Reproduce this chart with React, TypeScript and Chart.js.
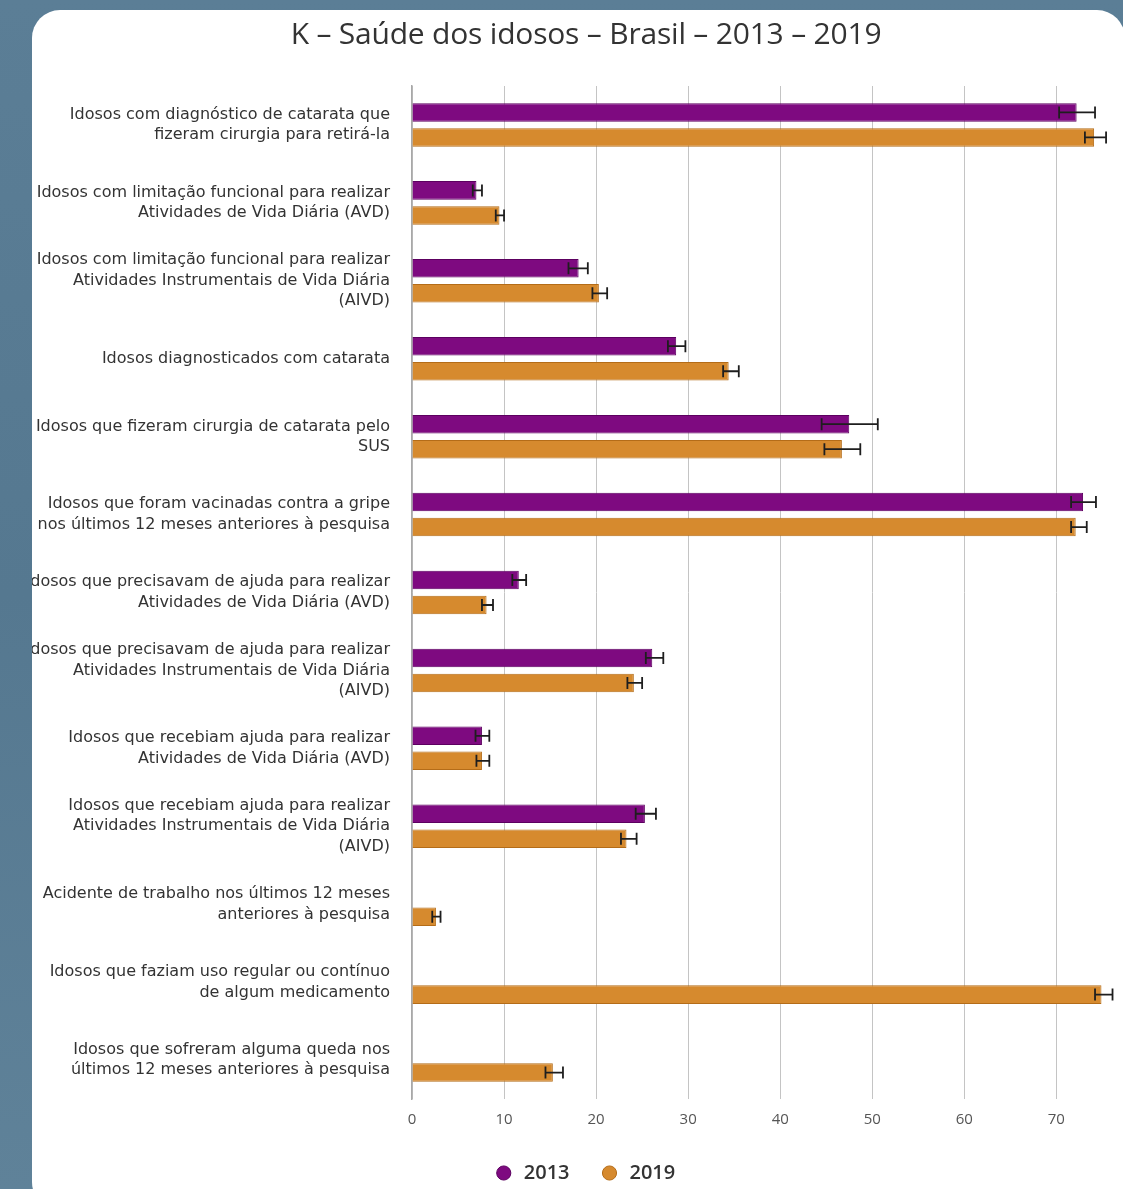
import React, { useEffect, useRef } from "react";
import { Chart, registerables } from "chart.js";

Chart.register(...registerables);

const categories: string[][] = [
  ["Idosos com diagnóstico de catarata que", "fizeram cirurgia para retirá-la"],
  ["Idosos com limitação funcional para realizar", "Atividades de Vida Diária (AVD)"],
  ["Idosos com limitação funcional para realizar", "Atividades Instrumentais de Vida Diária", "(AIVD)"],
  ["Idosos diagnosticados com catarata"],
  ["Idosos que fizeram cirurgia de catarata pelo", "SUS"],
  ["Idosos que foram vacinadas contra a gripe", "nos últimos 12 meses anteriores à pesquisa"],
  ["Idosos que precisavam de ajuda para realizar", "Atividades de Vida Diária (AVD)"],
  ["Idosos que precisavam de ajuda para realizar", "Atividades Instrumentais de Vida Diária", "(AIVD)"],
  ["Idosos que recebiam ajuda para realizar", "Atividades de Vida Diária (AVD)"],
  ["Idosos que recebiam ajuda para realizar", "Atividades Instrumentais de Vida Diária", "(AIVD)"],
  ["Acidente de trabalho nos últimos 12 meses", "anteriores à pesquisa"],
  ["Idosos que faziam uso regular ou contínuo", "de algum medicamento"],
  ["Idosos que sofreram alguma queda nos", "últimos 12 meses anteriores à pesquisa"],
];

const values2013: (number | null)[] = [72.2, 7.0, 18.1, 28.7, 47.5, 72.9, 11.6, 26.1, 7.6, 25.3, null, null, null];
const low2013: (number | null)[] = [70.3, 6.6, 17.0, 27.8, 44.5, 71.6, 10.9, 25.4, 6.9, 24.3, null, null, null];
const high2013: (number | null)[] = [74.2, 7.6, 19.1, 29.7, 50.6, 74.3, 12.4, 27.3, 8.4, 26.5, null, null, null];

const values2019: (number | null)[] = [74.1, 9.5, 20.3, 34.4, 46.7, 72.1, 8.1, 24.1, 7.6, 23.3, 2.6, 74.9, 15.3];
const low2019: (number | null)[] = [73.1, 9.1, 19.6, 33.8, 44.8, 71.6, 7.6, 23.4, 7.0, 22.7, 2.2, 74.2, 14.5];
const high2019: (number | null)[] = [75.4, 10.0, 21.2, 35.5, 48.7, 73.3, 8.8, 25.0, 8.4, 24.4, 3.1, 76.1, 16.4];

const seriesLabels = ["2013", "2019"];
const xTicks = [0, 10, 20, 30, 40, 50, 60, 70, 80];

const errorBarPlugin = {
  id: "errorBars",
  afterDatasetsDraw(chart: any) {
    const ctx = chart.ctx;
    const xScale = chart.scales.x;
    const lows = [low2013, low2019];
    const highs = [high2013, high2019];
    ctx.save();
    ctx.strokeStyle = "#1e1e1e";
    ctx.lineWidth = 1.8;
    chart.data.datasets.forEach((ds: any, di: number) => {
      const meta = chart.getDatasetMeta(di);
      meta.data.forEach((el: any, i: number) => {
        const lo = lows[di][i];
        const hi = highs[di][i];
        if (ds.data[i] == null || lo == null || hi == null) return;
        const xl = xScale.getPixelForValue(lo);
        const xh = xScale.getPixelForValue(hi);
        const y = el.y;
        const cap = 6;
        ctx.beginPath();
        ctx.moveTo(xl, y);
        ctx.lineTo(xh, y);
        ctx.moveTo(xl, y - cap);
        ctx.lineTo(xl, y + cap);
        ctx.moveTo(xh, y - cap);
        ctx.lineTo(xh, y + cap);
        ctx.stroke();
      });
    });
    ctx.restore();
  },
};

const CANVAS_W = 1169;
const CANVAS_H = 1193;

function ChartCanvas() {
  const ref = useRef<HTMLCanvasElement | null>(null);
  useEffect(() => {
    if (!ref.current) return;
    const chart = new Chart(ref.current, {
      type: "bar",
      data: {
        labels: categories,
        datasets: [
          {
            label: seriesLabels[0],
            data: values2013,
            backgroundColor: "#7e0a80",
            borderColor: "#5c0060",
            borderWidth: 1,
            categoryPercentage: 0.642,
            barPercentage: 0.74,
          },
          {
            label: seriesLabels[1],
            data: values2019,
            backgroundColor: "#d68a2e",
            borderColor: "#b46c18",
            borderWidth: 1,
            categoryPercentage: 0.642,
            barPercentage: 0.74,
          },
        ],
      },
      options: {
        indexAxis: "y",
        animation: false,
        responsive: false,
        devicePixelRatio: 1,
        layout: { padding: { top: 86, left: 0, right: 0, bottom: 0 } },
        scales: {
          x: {
            min: 0,
            max: 80,
            afterBuildTicks: (scale: any) => {
              scale.ticks = xTicks.map((v) => ({ value: v }));
            },
            afterFit: (scale: any) => {
              scale.height = 34;
            },
            grid: { color: "#c4c4c4", lineWidth: 1, drawTicks: false },
            border: { display: false },
            ticks: {
              padding: 12,
              color: "#555",
              font: { family: "'Open Sans', sans-serif", size: 15 },
            },
          },
          y: {
            afterFit: (scale: any) => {
              scale.width = 412;
            },
            grid: { display: false, drawTicks: false },
            border: { display: true, color: "#a8a8a8", width: 1.5 },
            ticks: {
              autoSkip: false,
              padding: 22,
              color: "#333",
              font: { family: "'DejaVu Sans', sans-serif", size: 16, lineHeight: 1.28 },
            },
          },
        },
        plugins: {
          legend: {
            position: "bottom",
            labels: {
              usePointStyle: true,
              pointStyle: "circle",
              boxWidth: 20,
              boxHeight: 10,
              padding: 30,
              color: "#333",
              font: { family: "'Open Sans', sans-serif", size: 20, weight: "600" },
            },
          },
          tooltip: { enabled: false },
          title: { display: false },
        },
      },
      plugins: [errorBarPlugin],
    } as any);
    return () => chart.destroy();
  }, []);
  return (
    <canvas
      ref={ref}
      width={CANVAS_W}
      height={CANVAS_H}
      style={{ position: "absolute", left: -32, top: -10, width: CANVAS_W, height: CANVAS_H }}
    />
  );
}

export default function App() {
  return (
    <div
      style={{
        position: "fixed",
        inset: 0,
        overflow: "hidden",
        background: "linear-gradient(180deg, #5b7e96 0%, #557890 50%, #5f8299 100%)",
      }}
    >
      <div
        style={{
          position: "absolute",
          left: 32,
          top: 10,
          width: 1093,
          height: 1200,
          background: "#ffffff",
          borderRadius: 28,
          overflow: "hidden",
        }}
      >
        <ChartCanvas />
      </div>
      <div
        style={{
          position: "absolute",
          left: 0,
          top: 14,
          width: 1172,
          textAlign: "center",
          lineHeight: "38px",
          fontFamily: "'Liberation Sans Narrow', 'Open Sans', sans-serif",
          fontSize: 30,
          letterSpacing: "-0.2px",
          color: "#333",
        }}
      >
        K – Saúde dos idosos – Brasil – 2013 – 2019
      </div>
    </div>
  );
}
